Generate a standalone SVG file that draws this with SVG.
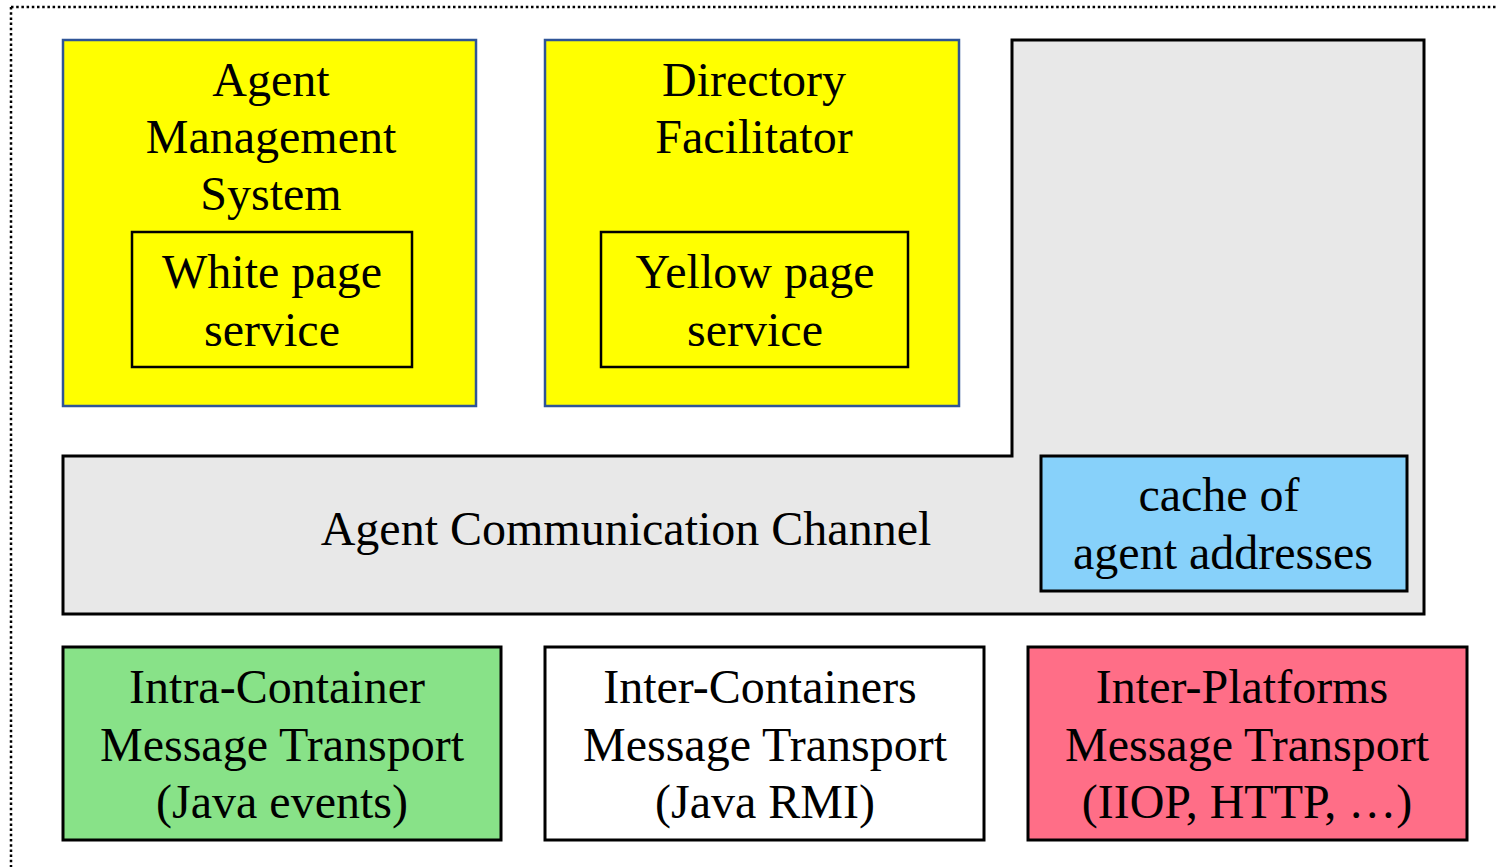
<svg xmlns="http://www.w3.org/2000/svg" width="1497" height="867" viewBox="0 0 1497 867">
<style>
text{font-family:"Liberation Serif","Times New Roman",serif;font-size:48px;fill:#000;text-anchor:middle}
.yel{fill:#FFFF00;stroke:#2F5597;stroke-width:2.5}
.inner{fill:#FFFF00;stroke:#000;stroke-width:2.5}
.blk{stroke:#000;stroke-width:3}
</style>
<rect width="1497" height="867" fill="#fff"/>
<path d="M11 7 H1497 M11 7 V867" fill="none" stroke="#000" stroke-width="2.5" stroke-dasharray="2.5 2.7"/>
<g id="acc">
<path class="blk" d="M1012 40 H1424 V614 H63 V456 H1012 Z" fill="#E8E8E8"/>
<text x="626" y="545">Agent Communication Channel</text>
</g>
<g id="ams">
<rect class="yel" x="63" y="40" width="413" height="366"/>
<text x="271" y="96">Agent</text>
<text x="271" y="153">Management</text>
<text x="271" y="210">System</text>
</g>
<g id="wps">
<rect class="inner" x="132" y="232" width="280" height="135"/>
<text x="272" y="288">White page</text>
<text x="272" y="346">service</text>
</g>
<g id="df">
<rect class="yel" x="545" y="40" width="414" height="366"/>
<text x="754" y="96">Directory</text>
<text x="754" y="153">Facilitator</text>
</g>
<g id="yps">
<rect class="inner" x="601" y="232" width="307" height="135"/>
<text x="755" y="288">Yellow page</text>
<text x="755" y="346">service</text>
</g>
<g id="cache">
<rect class="blk" x="1041" y="456" width="366" height="135" fill="#87D1FA"/>
<text x="1219" y="511">cache of</text>
<text x="1223" y="569">agent addresses</text>
</g>
<g id="intra">
<rect class="blk" x="63" y="647" width="438" height="193" fill="#88E288"/>
<text x="277" y="703">Intra-Container</text>
<text x="282" y="761">Message Transport</text>
<text x="282" y="818">(Java events)</text>
</g>
<g id="inter">
<rect class="blk" x="545" y="647" width="439" height="193" fill="#fff"/>
<text x="760" y="703">Inter-Containers</text>
<text x="765" y="761">Message Transport</text>
<text x="765" y="818">(Java RMI)</text>
</g>
<g id="platforms">
<rect class="blk" x="1028" y="647" width="439" height="193" fill="#FF6E87"/>
<text x="1242" y="703">Inter-Platforms</text>
<text x="1247" y="761">Message Transport</text>
<text x="1247" y="818">(IIOP, HTTP, …)</text>
</g>
<g id="connectors"/>
</svg>
